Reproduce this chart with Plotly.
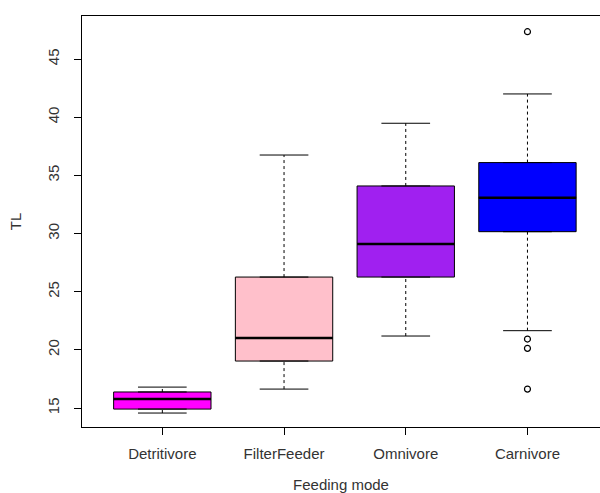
import plotly.graph_objects as go

categories = ["Detritivore", "FilterFeeder", "Omnivore", "Carnivore"]
lower_whisker = [14.57, 16.63, 21.19, 21.65]
q1 = [14.91, 19.04, 26.26, 30.16]
median = [15.77, 21.02, 29.10, 33.08]
q3 = [16.38, 26.26, 34.09, 36.10]
upper_whisker = [16.80, 36.75, 39.48, 42.00]
outliers = [[], [], [], [47.35, 20.93, 20.13, 16.63]]
colors = ["#FF00FF", "#FFC0CB", "#A020F0", "#0000FF"]

positions = [1, 2, 3, 4]
box_width = 0.8
cap_half = 0.2
med_half = 0.4

fig = go.Figure()

for i, cat in enumerate(categories):
    p = positions[i]
    # dashed whiskers
    fig.add_trace(go.Scatter(
        x=[p, p, None, p, p],
        y=[lower_whisker[i], q1[i], None, q3[i], upper_whisker[i]],
        mode="lines", line=dict(color="black", width=1, dash="3px,3px"),
        showlegend=False, hoverinfo="skip"))
    # caps
    fig.add_trace(go.Scatter(
        x=[p - cap_half, p + cap_half, None, p - cap_half, p + cap_half],
        y=[lower_whisker[i], lower_whisker[i], None, upper_whisker[i], upper_whisker[i]],
        mode="lines", line=dict(color="black", width=1),
        showlegend=False, hoverinfo="skip"))
    # box
    fig.add_trace(go.Box(
        x=[p], q1=[q1[i]], median=[median[i]], q3=[q3[i]],
        lowerfence=[q1[i]], upperfence=[q3[i]],
        width=box_width, fillcolor=colors[i],
        line=dict(color="black", width=1),
        boxpoints=False, showlegend=False, name=cat))
    # thick median
    fig.add_trace(go.Scatter(
        x=[p - med_half, p + med_half], y=[median[i], median[i]],
        mode="lines", line=dict(color="black", width=2.5),
        showlegend=False, hoverinfo="skip"))
    # outliers
    if outliers[i]:
        fig.add_trace(go.Scatter(
            x=[p] * len(outliers[i]), y=outliers[i], mode="markers",
            marker=dict(symbol="circle-open", size=6, color="black",
                        line=dict(width=1.2)),
            showlegend=False, hoverinfo="skip"))

font_family = "Liberation Sans, Arial, sans-serif"
fig.update_layout(
    width=600, height=493,
    margin=dict(l=82, r=0, t=16, b=66),
    paper_bgcolor="white", plot_bgcolor="white",
    font=dict(family=font_family, size=15, color="#333333"),
    xaxis=dict(
        range=[0.34, 4.596], tickmode="array", tickvals=positions,
        ticktext=categories, showgrid=False, zeroline=False,
        showline=True, linecolor="black", linewidth=1, mirror=True,
        ticks="outside", ticklen=7, tickcolor="black",
        ticklabelstandoff=6,
        title=dict(text="Feeding mode", standoff=18,
                   font=dict(size=15, color="#333333"))),
    yaxis=dict(
        range=[13.37, 48.7], tickmode="array",
        tickvals=[15, 20, 25, 30, 35, 40, 45],
        showgrid=False, zeroline=False,
        showline=True, linecolor="black", linewidth=1,
        ticks="outside", ticklen=7, tickcolor="black",
        tickangle=-90, ticklabelstandoff=9,
        title=dict(text="TL", standoff=19,
                   font=dict(size=15, color="#333333"))),
)

fig.write_html("out.html")
